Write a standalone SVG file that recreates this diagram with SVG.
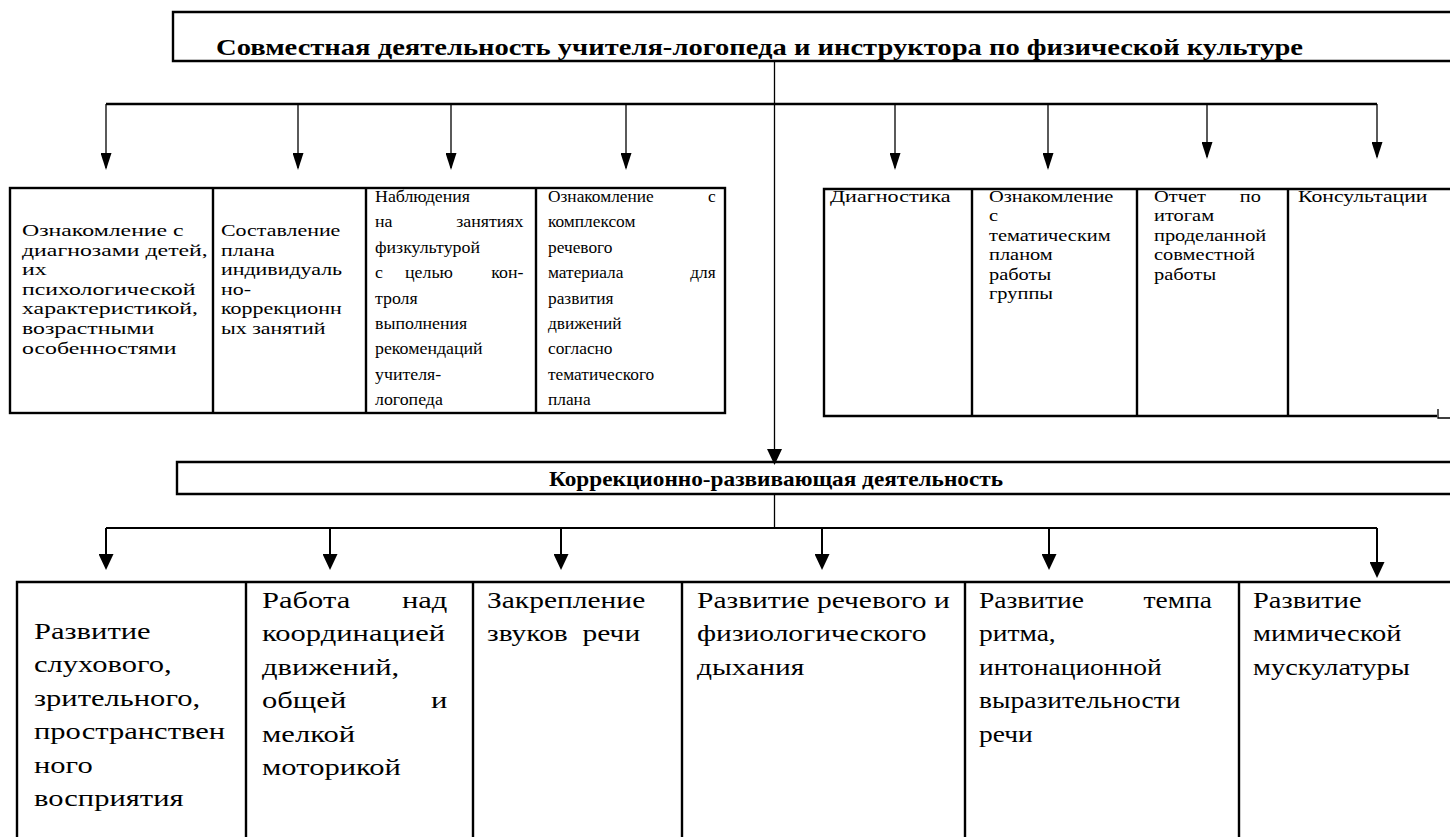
<svg xmlns="http://www.w3.org/2000/svg" width="1450" height="837" viewBox="0 0 1450 837">
<defs>
<style>
.ser{font-family:"Liberation Serif","Times New Roman",serif;fill:#000}
.hd{font-weight:bold}
.s17{font-size:17px}
.s23{font-size:23.5px}
.box{fill:none;stroke:#000;stroke-width:2.4}
.thin{fill:none;stroke:#000;stroke-width:1.3}
.bar{fill:none;stroke:#000;stroke-width:2.5}
.stem{fill:none;stroke:#000;stroke-width:2}
</style>
<marker id="a1" markerUnits="userSpaceOnUse" markerWidth="17" markerHeight="11" refX="15" refY="5.5" orient="auto"><path d="M0,0 L17,5.5 L0,11 z"/></marker>
<marker id="a2" markerUnits="userSpaceOnUse" markerWidth="16" markerHeight="15" refX="14" refY="7.5" orient="auto"><path d="M0,0 L16,7.5 L0,15 z"/></marker>
</defs>
<rect width="1450" height="837" fill="#fff"/>

<g id="connectors">
<path class="thin" d="M774.5,61 V463" marker-end="url(#a2)"/>
<path class="bar" d="M106,104 H1377"/>
<path class="thin" d="M106,104 V168" marker-end="url(#a1)"/>
<path class="thin" d="M298,104 V168" marker-end="url(#a1)"/>
<path class="thin" d="M451,104 V168" marker-end="url(#a1)"/>
<path class="thin" d="M626,104 V168" marker-end="url(#a1)"/>
<path class="thin" d="M895,104 V168" marker-end="url(#a1)"/>
<path class="thin" d="M1048,104 V168" marker-end="url(#a1)"/>
<path class="thin" d="M1207,104 V157" marker-end="url(#a1)"/>
<path class="thin" d="M1377,104 V157" marker-end="url(#a1)"/>
<path class="thin" d="M774.5,494 V528"/>
<path class="stem" d="M106,528 H1377"/>
<path class="stem" d="M106,528 V568" marker-end="url(#a2)"/>
<path class="stem" d="M330,528 V568" marker-end="url(#a2)"/>
<path class="stem" d="M561,528 V568" marker-end="url(#a2)"/>
<path class="stem" d="M822,528 V568" marker-end="url(#a2)"/>
<path class="stem" d="M1049,528 V568" marker-end="url(#a2)"/>
<path class="stem" d="M1377,528 V576" marker-end="url(#a2)"/>
</g>

<g id="title">
<path class="box" d="M1450,12 H173 V61 H1450"/>
<text class="ser hd" x="216" y="55" font-size="24" textLength="1087" lengthAdjust="spacingAndGlyphs">Совместная деятельность учителя-логопеда и инструктора по физической культуре</text>
</g>

<g id="left-group">
<rect class="box" x="10" y="188" width="715" height="225"/>
<path class="box" d="M213,188 V413 M366,188 V413 M536,188 V413"/>
</g>

<g id="node-a">
<text class="ser s17" transform="translate(22,0) scale(1.4,1)">
<tspan x="0" y="236">Ознакомление с</tspan>
<tspan x="0" y="255.6">диагнозами детей,</tspan>
<tspan x="0" y="275.2">их</tspan>
<tspan x="0" y="294.8">психологической</tspan>
<tspan x="0" y="314.4">характеристикой,</tspan>
<tspan x="0" y="334">возрастными</tspan>
<tspan x="0" y="353.6">особенностями</tspan>
</text>
</g>

<g id="node-b">
<text class="ser s17" transform="translate(221,0) scale(1.29,1)">
<tspan x="0" y="236">Составление</tspan>
<tspan x="0" y="255.6">плана</tspan>
<tspan x="0" y="275.2">индивидуаль</tspan>
<tspan x="0" y="294.8">но-</tspan>
<tspan x="0" y="314.4">коррекционн</tspan>
<tspan x="0" y="334">ых занятий</tspan>
</text>
</g>

<g id="node-c">
<text class="ser s17" transform="translate(375,0) scale(1.05,1)">
<tspan x="0" y="202">Наблюдения</tspan>
<tspan x="0" y="227.4">на</tspan><tspan x="145.7" y="227.4" text-anchor="end">занятиях</tspan>
<tspan x="0" y="252.8">физкультурой</tspan>
<tspan x="0" y="278.2">с</tspan><tspan x="28.6" y="278.2">целью</tspan><tspan x="145.7" y="278.2" text-anchor="end">кон-</tspan>
<tspan x="0" y="303.6">троля</tspan>
<tspan x="0" y="329">выполнения</tspan>
<tspan x="0" y="354.4">рекомендаций</tspan>
<tspan x="0" y="379.8">учителя-</tspan>
<tspan x="0" y="405.2">логопеда</tspan>
</text>
</g>

<g id="node-d">
<text class="ser s17" transform="translate(548,0) scale(1.02,1)">
<tspan x="0" y="202">Ознакомление</tspan><tspan x="168.6" y="202" text-anchor="end">с</tspan>
<tspan x="0" y="227.4">комплексом</tspan>
<tspan x="0" y="252.8">речевого</tspan>
<tspan x="0" y="278.2">материала</tspan><tspan x="168.6" y="278.2" text-anchor="end">для</tspan>
<tspan x="0" y="303.6">развития</tspan>
<tspan x="0" y="329">движений</tspan>
<tspan x="0" y="354.4">согласно</tspan>
<tspan x="0" y="379.8">тематического</tspan>
<tspan x="0" y="405.2">плана</tspan>
</text>
</g>

<g id="right-group">
<path class="box" d="M1450,189 H824 V416 H1437"/>
<path class="box" d="M972,189 V416 M1137,189 V416 M1288,189 V416"/>
<path class="thin" d="M1438,409 V418 H1450"/>
</g>

<g id="node-e">
<text class="ser s17" transform="translate(830,0) scale(1.3,1)"><tspan x="0" y="202">Диагностика</tspan></text>
</g>

<g id="node-f">
<text class="ser s17" transform="translate(989,0) scale(1.2,1)">
<tspan x="0" y="202">Ознакомление</tspan>
<tspan x="0" y="221.5">с</tspan>
<tspan x="0" y="241">тематическим</tspan>
<tspan x="0" y="260.5">планом</tspan>
<tspan x="0" y="280">работы</tspan>
<tspan x="0" y="299.5">группы</tspan>
</text>
</g>

<g id="node-g">
<text class="ser s17" transform="translate(1154,0) scale(1.2,1)">
<tspan x="0" y="202">Отчет</tspan><tspan x="93.3" y="202" text-anchor="end">по</tspan>
<tspan x="0" y="221.5">итогам</tspan>
<tspan x="0" y="241">проделанной</tspan>
<tspan x="0" y="260.5">совместной</tspan>
<tspan x="0" y="280">работы</tspan>
</text>
</g>

<g id="node-h">
<text class="ser s17" transform="translate(1298,0) scale(1.28,1)"><tspan x="0" y="202">Консультации</tspan></text>
</g>

<g id="middle">
<path class="box" d="M1450,462 H177 V494 H1450"/>
<text class="ser hd" x="549" y="486" font-size="22" textLength="454" lengthAdjust="spacingAndGlyphs">Коррекционно-развивающая деятельность</text>
</g>

<g id="bottom-frame">
<path class="box" d="M1450,582 H17 V837"/>
<path class="box" d="M246,582 V837 M473,582 V837 M682,582 V837 M965,582 V837 M1239,582 V837"/>
</g>

<g id="node-1">
<text class="ser s23" transform="translate(34,0) scale(1.3,1)">
<tspan x="0" y="639">Развитие</tspan>
<tspan x="0" y="672.4">слухового,</tspan>
<tspan x="0" y="705.8">зрительного,</tspan>
<tspan x="0" y="739.2">пространствен</tspan>
<tspan x="0" y="772.6">ного</tspan>
<tspan x="0" y="806">восприятия</tspan>
</text>
</g>

<g id="node-2">
<text class="ser s23" transform="translate(262,0) scale(1.3,1)">
<tspan x="0" y="608">Работа</tspan><tspan x="148.5" y="608" text-anchor="end">над</tspan>
<tspan x="0" y="641.4">координацией</tspan>
<tspan x="0" y="674.8">движений,</tspan>
<tspan x="0" y="708.2">общей</tspan><tspan x="148.5" y="708.2" text-anchor="end">и</tspan>
<tspan x="0" y="741.6">мелкой</tspan>
<tspan x="0" y="775">моторикой</tspan>
</text>
</g>

<g id="node-3">
<text class="ser s23" transform="translate(487,0) scale(1.255,1)">
<tspan x="0" y="608">Закрепление</tspan>
<tspan x="0" y="641.4" xml:space="preserve" style="white-space:pre">звуков  речи</tspan>
</text>
</g>

<g id="node-4">
<text class="ser s23" transform="translate(697,0) scale(1.255,1)">
<tspan x="0" y="608">Развитие речевого и</tspan>
<tspan x="0" y="641.4">физиологического</tspan>
<tspan x="0" y="674.8">дыхания</tspan>
</text>
</g>

<g id="node-5">
<text class="ser s23" transform="translate(979,0) scale(1.17,1)">
<tspan x="0" y="608">Развитие</tspan><tspan x="205.1" y="608" text-anchor="end">темпа</tspan>
<tspan x="0" y="641.4">ритма,</tspan>
<tspan x="0" y="674.8">интонационной</tspan>
<tspan x="0" y="708.2">выразительности</tspan>
<tspan x="0" y="741.6">речи</tspan>
</text>
</g>

<g id="node-6">
<text class="ser s23" transform="translate(1253,0) scale(1.21,1)">
<tspan x="0" y="608">Развитие</tspan>
<tspan x="0" y="641.4">мимической</tspan>
<tspan x="0" y="674.8">мускулатуры</tspan>
</text>
</g>
</svg>
